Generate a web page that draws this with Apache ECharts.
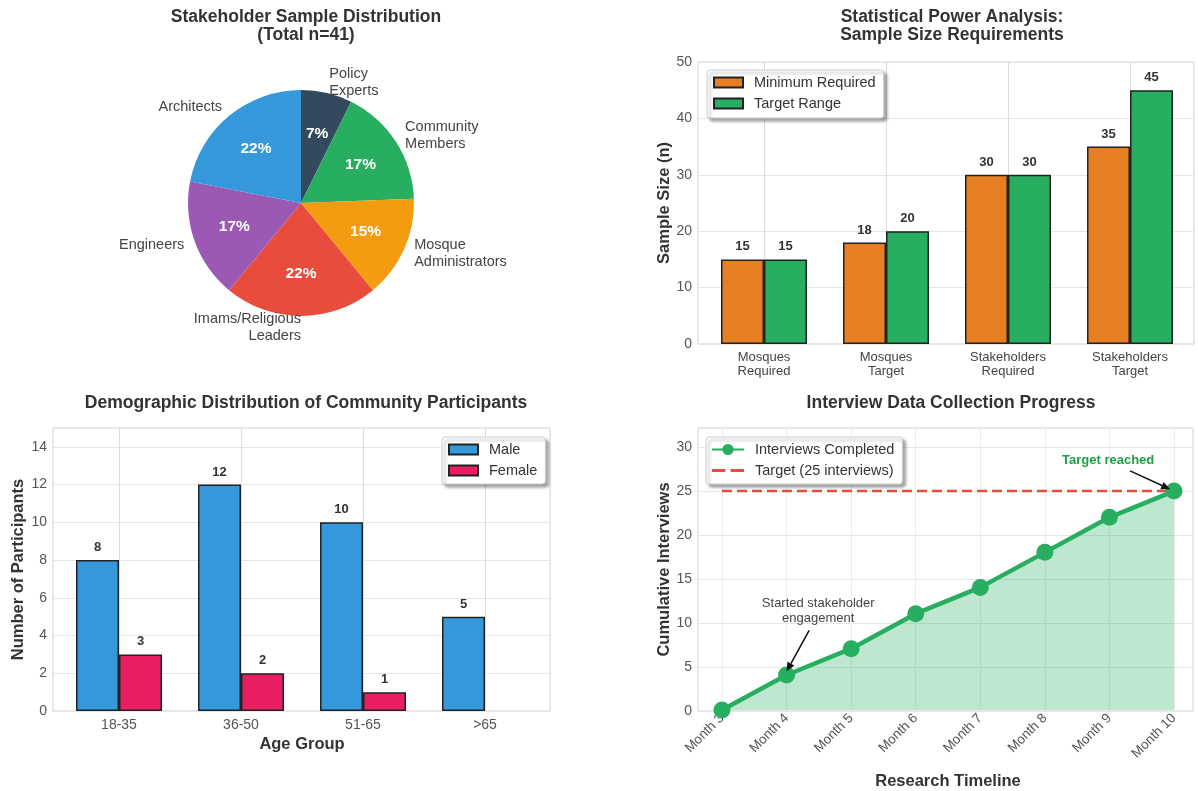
<!DOCTYPE html>
<html>
<head>
<meta charset="utf-8">
<script src="https://cdn.jsdelivr.net/npm/echarts@6/dist/echarts.min.js"></script>
<style>
  html, body { margin: 0; padding: 0; background: #fff; }
  #chart { width: 1198px; height: 791px; }
</style>
</head>
<body>
<div id="chart"></div>
<script>
// pie: listed clockwise from 12 o'clock
const pieNames = ["Policy\nExperts", "Community\nMembers", "Mosque\nAdministrators", "Imams/Religious\nLeaders", "Engineers", "Architects"];
const pieValues = [3, 7, 6, 9, 7, 9];
const pieColors = ["#34495e", "#27ae60", "#f39c12", "#e74c3c", "#9b59b6", "#3498db"];

const powerCategories = ["Mosques\nRequired", "Mosques\nTarget", "Stakeholders\nRequired", "Stakeholders\nTarget"];
const minRequired = [15, 18, 30, 35];
const targetRange = [15, 20, 30, 45];

const ageGroups = ["18-35", "36-50", "51-65", ">65"];
const maleCounts = [8, 12, 10, 5];
const femaleCounts = [3, 2, 1, 0];

const months = ["Month 3", "Month 4", "Month 5", "Month 6", "Month 7", "Month 8", "Month 9", "Month 10"];
const interviews = [0, 4, 7, 11, 14, 18, 22, 25];
const interviewTarget = 25;

const FONT = "Liberation Sans";
const chart = echarts.init(document.getElementById("chart"));

const legendBox = {
  backgroundColor: "#fff",
  borderColor: "#cfcfcf",
  borderWidth: 1,
  borderRadius: 3,
  shadowColor: "rgba(0,0,0,0.35)",
  shadowBlur: 3,
  shadowOffsetX: 3,
  shadowOffsetY: 3,
  orient: "vertical",
  itemGap: 6,
  textStyle: { fontFamily: FONT, fontSize: 14.5, color: "#333", padding: [0, 0, 0, 6] }
};

function titleAt(text, x, y) {
  return {
    text: text, left: x, top: y, textAlign: "center",
    textStyle: { fontFamily: FONT, fontSize: 17.5, fontWeight: "bold", color: "#333", lineHeight: 18 }
  };
}

const axisName = { fontFamily: FONT, fontSize: 16.5, fontWeight: "bold", color: "#333" };

// frame grid: border + y axis with horizontal grid lines
function frameY(grid, max, interval, name, gap) {
  return {
    gridIndex: grid, type: "value", min: 0, max: max, interval: interval,
    axisLine: { show: false }, axisTick: { show: false },
    axisLabel: { fontFamily: FONT, fontSize: 14, color: "#555", margin: 6, showMaxLabel: max % interval === 0 },
    splitLine: { lineStyle: { color: "#e6e6e6" } },
    name: name, nameLocation: "middle", nameGap: gap, nameTextStyle: axisName
  };
}
function hiddenX(grid) {
  return { gridIndex: grid, type: "value", show: false, min: 0, max: 1 };
}
function hiddenY(grid, max) {
  return { gridIndex: grid, type: "value", show: false, min: 0, max: max };
}
function frameGrid(left, top, width, height) {
  return { left: left, top: top, width: width, height: height, show: true, borderColor: "#d0d0d0", borderWidth: 1, backgroundColor: "#fff" };
}

const barLabel = {
  show: true, position: "top", distance: 6,
  fontFamily: FONT, fontSize: 13, fontWeight: "bold", color: "#333",
  formatter: p => (p.value > 0 ? p.value : "")
};
const barEdge = { borderColor: "#222", borderWidth: 1.5 };
// zero-height bars get no outline
const barData = arr => arr.map(v => (v > 0 ? v : { value: v, itemStyle: { borderWidth: 0 } }));

const option = {
  animation: false,
  backgroundColor: "#fff",
  title: [
    titleAt("Stakeholder Sample Distribution\n(Total n=41)", 301, 3),
    titleAt("Statistical Power Analysis:\nSample Size Requirements", 947, 3),
    titleAt("Demographic Distribution of Community Participants", 301, 389),
    titleAt("Interview Data Collection Progress", 946, 389)
  ],
  legend: [
    Object.assign({}, legendBox, {
      left: 707, top: 70, padding: [5, 8, 7, 6], itemWidth: 29, itemHeight: 10,
      icon: "rect", data: ["Minimum Required", "Target Range"]
    }),
    Object.assign({}, legendBox, {
      left: 442, top: 437, padding: [5, 8, 6, 6], itemWidth: 29, itemHeight: 10,
      icon: "rect", data: ["Male", "Female"]
    }),
    Object.assign({}, legendBox, {
      left: 706, top: 437, padding: [5, 8, 6, 5], itemWidth: 32, itemHeight: 14,
      data: [
        "Interviews Completed",
        { name: "Target (25 interviews)", icon: "path://M0,0h13v3h-13z M18,0h13v3h-13z", itemStyle: { color: "#e74c3c" } }
      ]
    })
  ],
  grid: [
    frameGrid(698, 62, 496, 282),
    { left: 703, top: 62, width: 488, height: 282 },
    frameGrid(53, 428, 497, 283),
    { left: 58, top: 428, width: 488, height: 283 },
    frameGrid(698, 428, 495, 283),
    { left: 722, top: 428, width: 452, height: 283 }
  ],
  xAxis: [
    hiddenX(0),
    {
      gridIndex: 1, type: "category", data: powerCategories,
      axisLine: { show: false }, axisTick: { show: false },
      axisLabel: { fontFamily: FONT, fontSize: 13, color: "#444", margin: 6, lineHeight: 14, interval: 0 },
      splitLine: { show: true, alignWithLabel: true, lineStyle: { color: "#dcdcdc" } }
    },
    hiddenX(2),
    {
      gridIndex: 3, type: "category", data: ageGroups,
      axisLine: { show: false }, axisTick: { show: false },
      axisLabel: { fontFamily: FONT, fontSize: 14, color: "#555", margin: 7, interval: 0 },
      splitLine: { show: true, alignWithLabel: true, lineStyle: { color: "#dcdcdc" } },
      name: "Age Group", nameLocation: "middle", nameGap: 24.5, nameTextStyle: axisName
    },
    hiddenX(4),
    {
      gridIndex: 5, type: "category", data: months, boundaryGap: false,
      axisLine: { show: false }, axisTick: { show: false },
      axisLabel: { fontFamily: FONT, fontSize: 13.5, color: "#555", margin: 6, rotate: 45, interval: 0 },
      splitLine: { show: true, lineStyle: { color: "#ececec" } },
      name: "Research Timeline", nameLocation: "middle", nameGap: 63, nameTextStyle: axisName
    }
  ],
  yAxis: [
    frameY(0, 50, 10, "Sample Size (n)", 25.5),
    hiddenY(1, 50),
    frameY(2, 15, 2, "Number of Participants", 26.5),
    hiddenY(3, 15),
    frameY(4, 32.2, 5, "Cumulative Interviews", 25.5),
    hiddenY(5, 32.2)
  ],
  series: [
    {
      type: "pie", center: [301, 203], radius: 113, startAngle: 89.99, clockwise: true,
      avoidLabelOverlap: false, silent: true,
      data: pieNames.map((n, i) => ({ name: n, value: pieValues[i], itemStyle: { color: pieColors[i] } })),
      label: { show: true, position: "outside", fontFamily: FONT, fontSize: 14.5, color: "#444", distanceToLabelLine: 0, lineHeight: 17 },
      labelLine: { show: false, length: 11, length2: 0 }
    },
    {
      type: "pie", center: [301, 203], radius: [22.6, 113], startAngle: 89.99, clockwise: true,
      avoidLabelOverlap: false, silent: true,
      data: pieNames.map((n, i) => ({ name: n, value: pieValues[i] })),
      itemStyle: { color: "rgba(0,0,0,0)" },
      label: {
        show: true, position: "inside", fontFamily: FONT, fontSize: 15.5, fontWeight: "bold", color: "#fff",
        formatter: p => Math.round(p.percent) + "%"
      },
      labelLine: { show: false }
    },
    {
      name: "Minimum Required", type: "bar", xAxisIndex: 1, yAxisIndex: 1,
      data: barData(minRequired), barWidth: 43, barGap: "0%",
      itemStyle: Object.assign({ color: "#e67e22" }, barEdge), label: barLabel
    },
    {
      name: "Target Range", type: "bar", xAxisIndex: 1, yAxisIndex: 1,
      data: barData(targetRange), barWidth: 43, barGap: "0%",
      itemStyle: Object.assign({ color: "#27ae60" }, barEdge), label: barLabel
    },
    {
      name: "Male", type: "bar", xAxisIndex: 3, yAxisIndex: 3,
      data: barData(maleCounts), barWidth: 43, barGap: "0%",
      itemStyle: Object.assign({ color: "#3498db" }, barEdge), label: barLabel
    },
    {
      name: "Female", type: "bar", xAxisIndex: 3, yAxisIndex: 3,
      data: barData(femaleCounts), barWidth: 43, barGap: "0%",
      itemStyle: Object.assign({ color: "#e91e63" }, barEdge), label: barLabel
    },
    {
      name: "Target (25 interviews)", type: "line", xAxisIndex: 5, yAxisIndex: 5,
      data: months.map(() => interviewTarget), symbol: "none",
      lineStyle: { color: "#e74c3c", width: 2.5, type: [10, 5] },
      itemStyle: { color: "#e74c3c" }, z: 3
    },
    {
      name: "Interviews Completed", type: "line", xAxisIndex: 5, yAxisIndex: 5,
      data: interviews, symbol: "circle", symbolSize: 17,
      lineStyle: { color: "#27ae60", width: 4.5 },
      itemStyle: { color: "#27ae60" },
      areaStyle: { color: "#27ae60", opacity: 0.3 }, z: 4
    }
  ]
};

chart.setOption(option);

// annotations on the interview chart, placed in data coordinates
function px(xi, yv) {
  const i = Math.min(Math.floor(xi), months.length - 2), f = xi - i;
  const a = chart.convertToPixel({ gridIndex: 5 }, [i, yv]);
  const b = chart.convertToPixel({ gridIndex: 5 }, [i + 1, yv]);
  return [a[0] + f * (b[0] - a[0]), a[1]];
}
function arrow(p0, p1) {
  const dx = p1[0] - p0[0], dy = p1[1] - p0[1], len = Math.hypot(dx, dy);
  const ux = dx / len, uy = dy / len, hl = 9, hw = 4;
  const bx = p1[0] - ux * hl, by = p1[1] - uy * hl;
  return [
    { type: "line", z: 20, shape: { x1: p0[0], y1: p0[1], x2: bx, y2: by }, style: { stroke: "#111", lineWidth: 1.5 } },
    { type: "polygon", z: 20, shape: { points: [p1, [bx - uy * hw, by + ux * hw], [bx + uy * hw, by - ux * hw]] }, style: { fill: "#111" } }
  ];
}
const t1 = px(1.49, 11.3), t2 = px(5.98, 28.5);
chart.setOption({
  graphic: [
    { type: "text", z: 20, style: { text: "Started stakeholder\nengagement", x: t1[0], y: t1[1], align: "center", verticalAlign: "middle", fontFamily: FONT, fontSize: 13, fill: "#444", lineHeight: 15 } },
    { type: "text", z: 20, style: { text: "Target reached", x: t2[0], y: t2[1], align: "center", verticalAlign: "middle", fontFamily: FONT, fontSize: 13, fontWeight: "bold", fill: "#1e9e45" } }
  ].concat(arrow(px(1.35, 9.1), px(1.0, 4.4)), arrow(px(6.32, 27.3), px(6.94, 25.2)))
});
</script>
</body>
</html>
